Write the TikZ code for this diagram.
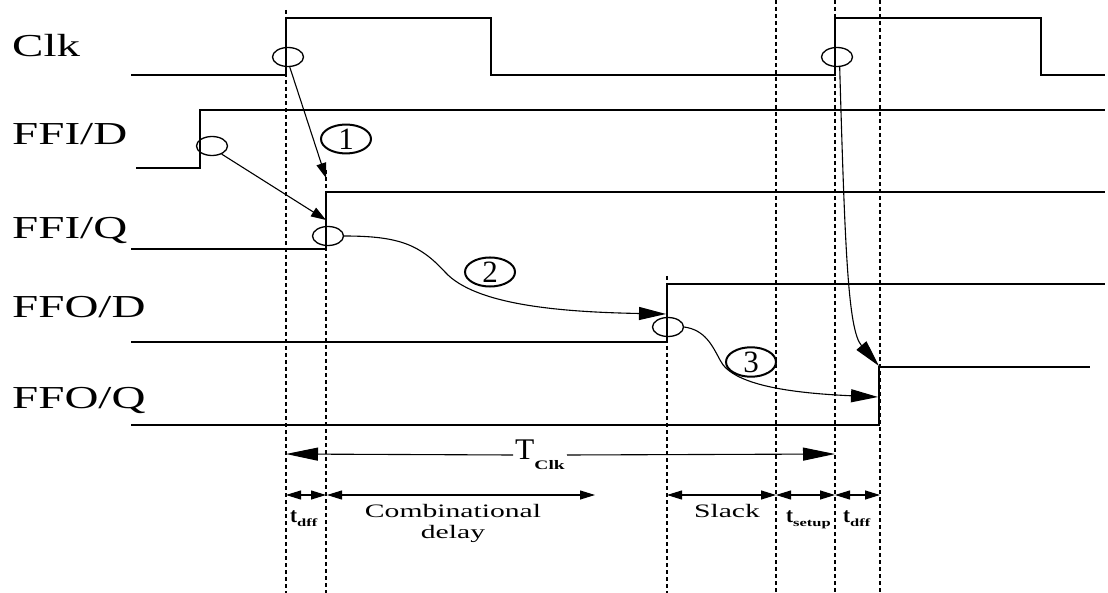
\documentclass[tikz,border=0pt]{standalone}
\usepackage{fontspec}
\setmainfont{Liberation Serif}
\usepackage{graphicx}
\usetikzlibrary{arrows.meta,shapes.geometric}
\newcommand\siglabel[1]{\scalebox{1.47}[1]{\fontsize{32}{32}\selectfont #1}}
\newcommand\tlabel[1]{{\fontsize{21}{21}\selectfont\bfseries t}\raisebox{-4.5pt}{\scalebox{1.5}[1]{\fontsize{11}{11}\selectfont\bfseries #1}}}
\newcommand\widetext[1]{\scalebox{1.56}[1]{#1}}
\begin{document}
\begin{tikzpicture}[x=1pt,y=-1pt,
  sig/.style={line width=2.5pt},
  guide/.style={line width=1.4pt, dash pattern=on 4pt off 3pt},
  ring/.style={draw, ellipse, line width=1.3pt, minimum width=31pt, minimum height=19pt, inner sep=0pt},
  num/.style={draw, ellipse, line width=2pt, minimum width=50pt, minimum height=28pt, inner sep=0pt, font=\fontsize{31}{31}\selectfont},
  shortarrow/.style={line width=1.1pt, -{Triangle[length=15pt,width=10pt]}},
  longarrow/.style={line width=1.1pt, -{Triangle[length=27pt,width=13pt]}},
  period/.style={line width=1.1pt, -{Triangle[length=32pt,width=13pt]}},
  dim/.style={line width=1.1pt, {Triangle[length=15pt,width=9pt]}-{Triangle[length=15pt,width=9pt]}},
  siglab/.style={anchor=base west, inner sep=0pt},
  botlab/.style={anchor=base west, inner sep=0pt},
]
\useasboundingbox (0,0) rectangle (1108,593);

% signal labels
\node[siglab] (lclk) at (12,57) {\siglabel{Clk}};
\node[siglab] (lffid) at (12,145) {\siglabel{FFI/D}};
\node[siglab] (lffiq) at (12,239) {\siglabel{FFI/Q}};
\node[siglab] (lffod) at (12,318) {\siglabel{FFO/D}};
\node[siglab] (lffoq) at (12,408) {\siglabel{FFO/Q}};

% guides
\draw[guide] (286,10) -- (286,593);
\draw[guide] (326,170) -- (326,593);
\draw[guide] (667,276) -- (667,593);
\draw[guide] (776,0) -- (776,593);
\draw[guide] (835,0) -- (835,593);
\draw[guide] (880,0) -- (880,593);

% waveforms
\draw[sig] (131,75) -- (286,75) -- (286,18) -- (491,18) -- (491,75) -- (835,75) -- (835,18) -- (1041,18) -- (1041,75) -- (1105,75);
\draw[sig] (136,168) -- (200,168) -- (200,110) -- (1105,110);
\draw[sig] (131,249) -- (326,249) -- (326,192) -- (1105,192);
\draw[sig] (131,342) -- (667,342) -- (667,284) -- (1105,284);
\draw[sig] (131,425) -- (879,425) -- (879,367) -- (1090,367);

% event rings
\node[ring] (c1) at (288,57) {};
\node[ring] (c2) at (212,146) {};
\node[ring] (c3) at (328,236) {};
\node[ring] (c4) at (668,327) {};
\node[ring] (c5) at (837,57) {};

% arrow targets
\coordinate (t1) at (326,178);
\coordinate (t2) at (326,220);
\coordinate (t3) at (666,314);
\coordinate (t4) at (878,397);
\coordinate (t5) at (879,366);

% causal arrows
\draw[shortarrow] (c1.-80) -- (t1);
\draw[shortarrow] (c2.-40) -- (t2);
\draw[longarrow] (c3.east) .. controls (400,236) and (420,245) .. (445,272) .. controls (475,305) and (560,312) .. (t3);
\draw[longarrow] (c4.east) .. controls (705,330) and (712,345) .. (720,360) .. controls (732,385) and (790,393) .. (t4);
\draw[longarrow] (c5.-75) .. controls (845,250) and (848,330) .. (t5);

% circled numbers
\node[num] (n1) at (346,139) {1};
\node[num] (n2) at (490,272) {2};
\node[num] (n3) at (751,362) {3};

% clock period
\coordinate (p0) at (286,454);
\coordinate (p1) at (835,454);
\node[inner sep=2pt] (tclk) at (540,455) {\scalebox{1.05}[1]{\fontsize{30}{30}\selectfont T}\raisebox{-10pt}{\scalebox{1.5}[1]{\fontsize{13}{13}\selectfont\bfseries Clk}}};
\draw[period] (tclk.west) -- (p0);
\draw[period] (tclk.east) -- (p1);

% timing dimensions
\coordinate (a0) at (286,495);
\coordinate (a1) at (326,495);
\coordinate (a1b) at (327,495);
\coordinate (a2) at (595,495);
\coordinate (a3) at (667,495);
\coordinate (a4) at (776,495);
\coordinate (a5) at (835,495);
\coordinate (a6) at (880,495);
\draw[dim] (a0) -- (a1);
\draw[dim] (a1b) -- (a2);
\draw[dim] (a3) -- (a4);
\draw[dim] (a4) -- (a5);
\draw[dim] (a5) -- (a6);

\node[botlab] (ldff1) at (290,522) {\tlabel{dff}};
\node[align=center, inner sep=0pt, font=\fontsize{19}{21}\selectfont] (comb) at (453,523) {\widetext{Combinational}\\\widetext{delay}};
\node[anchor=base, inner sep=0pt, font=\fontsize{19}{19}\selectfont] (slack) at (727,517) {\widetext{Slack}};
\node[botlab] (lsetup) at (786,522) {\tlabel{setup}};
\node[botlab] (ldff2) at (843,522) {\tlabel{dff}};
\end{tikzpicture}
\end{document}
